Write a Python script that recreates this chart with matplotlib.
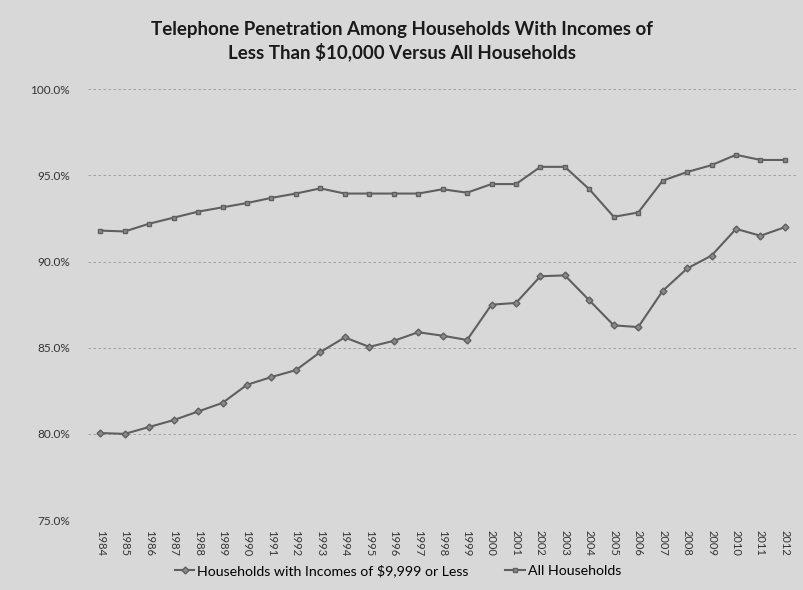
import matplotlib.pyplot as plt
from matplotlib.ticker import PercentFormatter

# Data
years = [str(y) for y in range(1984, 2013)]
low_income = [80.05, 80.0, 80.4, 80.8, 81.3, 81.8, 82.85, 83.3, 83.7, 84.75,
              85.6, 85.05, 85.4, 85.9, 85.7, 85.45, 87.5, 87.6, 89.15, 89.2,
              87.75, 86.3, 86.2, 88.3, 89.6, 90.35, 91.9, 91.5, 92.0]
all_households = [91.8, 91.75, 92.2, 92.55, 92.9, 93.15, 93.4, 93.7, 93.95, 94.25,
                  93.95, 93.95, 93.95, 93.95, 94.2, 94.0, 94.5, 94.5, 95.5, 95.5,
                  94.2, 92.6, 92.85, 94.7, 95.2, 95.6, 96.2, 95.9, 95.9]
y_ticks = [75, 80, 85, 90, 95, 100]

plt.rcParams['font.family'] = ['Lato', 'DejaVu Sans']

fig = plt.figure(figsize=(8.04, 5.90), dpi=100, facecolor='#d8d8d8')
ax = fig.add_axes([0.1095, 0.1186, 0.882, 0.730])
ax.set_facecolor('#d8d8d8')

x = range(len(years))
ax.plot(x, low_income, color='#5f5f5f', lw=1.5, marker='D', ms=3.5,
        mfc='#8a8a8a', mec='#5f5f5f', label='Households with Incomes of $9,999 or Less')
ax.plot(x, all_households, color='#5f5f5f', lw=1.5, marker='s', ms=3.5,
        mfc='#8a8a8a', mec='#5f5f5f', label='All Households')

ax.set_ylim(75, 100)
ax.set_xlim(-0.5, len(years) - 0.5)
ax.set_yticks(y_ticks)
ax.yaxis.set_major_formatter(PercentFormatter(decimals=1))
ax.set_xticks(list(x))
ax.set_xticklabels(years, rotation=-90, fontsize=8, color='#333333')
ax.tick_params(axis='y', labelsize=8.5, length=0, pad=13, colors='#333333')
ax.tick_params(axis='x', length=0, pad=7)
ax.grid(axis='y', color='#999999', ls=(0, (3, 3)), lw=0.6)
for s in ax.spines.values():
    s.set_visible(False)

fig.text(0.5, 0.930, 'Telephone Penetration Among Households With Incomes of\n'
         'Less Than $10,000 Versus All Households',
         ha='center', va='center', fontsize=13.5, fontweight='bold',
         color='#1a1a1a', linespacing=1.3)

fig.legend(loc='center', bbox_to_anchor=(0.495, 0.033), ncol=2, frameon=False,
           fontsize=10.2, handlelength=1.4, handletextpad=0.2, columnspacing=2.6)

fig.savefig('out.png', dpi=100, facecolor=fig.get_facecolor())
